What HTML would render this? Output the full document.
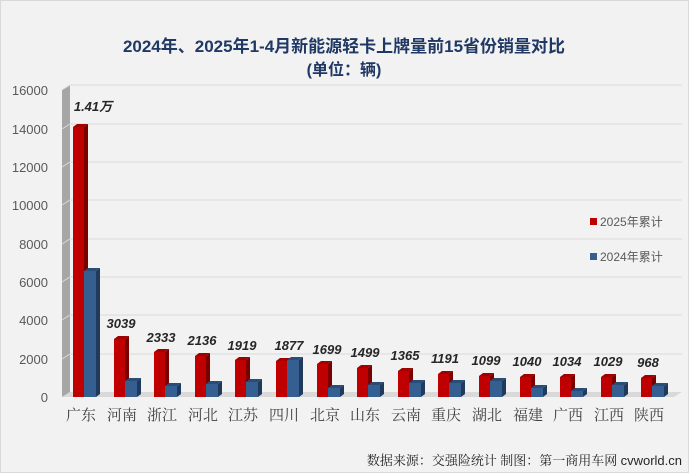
<!DOCTYPE html><html><head><meta charset="utf-8"><style>
body{margin:0;background:#fff}
svg{display:block}
.r{fill:#c00000}.rs{fill:#7a0000}.rt{fill:#a00000}
.b{fill:#355f91}.bs{fill:#1f3a5c}.bt{fill:#2a4d78}
.ax{font:13px "Liberation Sans",sans-serif;fill:#595959;text-anchor:end}
.v{font:italic bold 13px "Liberation Sans","Noto Sans CJK SC",sans-serif;fill:#262626;text-anchor:middle}
.c{font:15px "Noto Serif CJK SC","Liberation Serif",serif;fill:#404040;text-anchor:middle}
</style></head><body>
<svg width="689" height="473" viewBox="0 0 689 473">
<rect x="0.5" y="0.5" width="688" height="472" fill="#f2f2f2" stroke="#d9d9d9"/>
<text x="344" y="52" text-anchor="middle" style="font:bold 17px 'Liberation Sans','Noto Sans CJK SC',sans-serif;fill:#1f3864">2024年、2025年1-4月新能源轻卡上牌量前15省份销量对比</text>
<text x="344" y="75" text-anchor="middle" style="font:bold 16px 'Liberation Sans','Noto Sans CJK SC',sans-serif;fill:#1f3864">(单位：辆)</text>
<polygon points="62,397 70,392 70,85 62,90" fill="#a6a6a6"/>
<polygon points="62,397 70,392 682,392 674,397" fill="#d9d9d9"/>
<g stroke="#d9d9d9" stroke-width="1" fill="none">
<path d="M62 359 L70 354 H682"/><path d="M62 320 L70 315 H682"/><path d="M62 282 L70 277 H682"/><path d="M62 244 L70 239 H682"/><path d="M62 205 L70 200 H682"/><path d="M62 167 L70 162 H682"/><path d="M62 129 L70 124 H682"/><path d="M62 90 L70 85 H682"/>
</g>
<g class="ax"><text x="48" y="402">0</text><text x="48" y="364">2000</text><text x="48" y="325">4000</text><text x="48" y="287">6000</text><text x="48" y="249">8000</text><text x="48" y="210">10000</text><text x="48" y="172">12000</text><text x="48" y="134">14000</text><text x="48" y="95">16000</text></g>

<g transform="translate(73,0)"><path class="r" d="M0 127H11V397H0Z"/><path class="rs" d="M11 127l4 -3V394l-4 3Z"/><path class="rt" d="M0 127l4 -3h11l-4 3Z"/><path class="b" d="M11 271H23V397H11Z"/><path class="bs" d="M23 271l4 -3V394l-4 3Z"/><path class="bt" d="M11 271l4 -3h12l-4 3Z"/></g>
<g transform="translate(114,0)"><path class="r" d="M0 339H11V397H0Z"/><path class="rs" d="M11 339l4 -3V394l-4 3Z"/><path class="rt" d="M0 339l4 -3h11l-4 3Z"/><path class="b" d="M11 381H23V397H11Z"/><path class="bs" d="M23 381l4 -3V394l-4 3Z"/><path class="bt" d="M11 381l4 -3h12l-4 3Z"/></g>
<g transform="translate(154,0)"><path class="r" d="M0 352H11V397H0Z"/><path class="rs" d="M11 352l4 -3V394l-4 3Z"/><path class="rt" d="M0 352l4 -3h11l-4 3Z"/><path class="b" d="M11 386H23V397H11Z"/><path class="bs" d="M23 386l4 -3V394l-4 3Z"/><path class="bt" d="M11 386l4 -3h12l-4 3Z"/></g>
<g transform="translate(195,0)"><path class="r" d="M0 356H11V397H0Z"/><path class="rs" d="M11 356l4 -3V394l-4 3Z"/><path class="rt" d="M0 356l4 -3h11l-4 3Z"/><path class="b" d="M11 384H23V397H11Z"/><path class="bs" d="M23 384l4 -3V394l-4 3Z"/><path class="bt" d="M11 384l4 -3h12l-4 3Z"/></g>
<g transform="translate(235,0)"><path class="r" d="M0 360H11V397H0Z"/><path class="rs" d="M11 360l4 -3V394l-4 3Z"/><path class="rt" d="M0 360l4 -3h11l-4 3Z"/><path class="b" d="M11 382H23V397H11Z"/><path class="bs" d="M23 382l4 -3V394l-4 3Z"/><path class="bt" d="M11 382l4 -3h12l-4 3Z"/></g>
<g transform="translate(276,0)"><path class="r" d="M0 361H11V397H0Z"/><path class="rs" d="M11 361l4 -3V394l-4 3Z"/><path class="rt" d="M0 361l4 -3h11l-4 3Z"/><path class="b" d="M11 360H23V397H11Z"/><path class="bs" d="M23 360l4 -3V394l-4 3Z"/><path class="bt" d="M11 360l4 -3h12l-4 3Z"/></g>
<g transform="translate(317,0)"><path class="r" d="M0 364H11V397H0Z"/><path class="rs" d="M11 364l4 -3V394l-4 3Z"/><path class="rt" d="M0 364l4 -3h11l-4 3Z"/><path class="b" d="M11 388H23V397H11Z"/><path class="bs" d="M23 388l4 -3V394l-4 3Z"/><path class="bt" d="M11 388l4 -3h12l-4 3Z"/></g>
<g transform="translate(357,0)"><path class="r" d="M0 368H11V397H0Z"/><path class="rs" d="M11 368l4 -3V394l-4 3Z"/><path class="rt" d="M0 368l4 -3h11l-4 3Z"/><path class="b" d="M11 385H23V397H11Z"/><path class="bs" d="M23 385l4 -3V394l-4 3Z"/><path class="bt" d="M11 385l4 -3h12l-4 3Z"/></g>
<g transform="translate(398,0)"><path class="r" d="M0 371H11V397H0Z"/><path class="rs" d="M11 371l4 -3V394l-4 3Z"/><path class="rt" d="M0 371l4 -3h11l-4 3Z"/><path class="b" d="M11 383H23V397H11Z"/><path class="bs" d="M23 383l4 -3V394l-4 3Z"/><path class="bt" d="M11 383l4 -3h12l-4 3Z"/></g>
<g transform="translate(438,0)"><path class="r" d="M0 374H11V397H0Z"/><path class="rs" d="M11 374l4 -3V394l-4 3Z"/><path class="rt" d="M0 374l4 -3h11l-4 3Z"/><path class="b" d="M11 383H23V397H11Z"/><path class="bs" d="M23 383l4 -3V394l-4 3Z"/><path class="bt" d="M11 383l4 -3h12l-4 3Z"/></g>
<g transform="translate(479,0)"><path class="r" d="M0 376H11V397H0Z"/><path class="rs" d="M11 376l4 -3V394l-4 3Z"/><path class="rt" d="M0 376l4 -3h11l-4 3Z"/><path class="b" d="M11 381H23V397H11Z"/><path class="bs" d="M23 381l4 -3V394l-4 3Z"/><path class="bt" d="M11 381l4 -3h12l-4 3Z"/></g>
<g transform="translate(520,0)"><path class="r" d="M0 377H11V397H0Z"/><path class="rs" d="M11 377l4 -3V394l-4 3Z"/><path class="rt" d="M0 377l4 -3h11l-4 3Z"/><path class="b" d="M11 388H23V397H11Z"/><path class="bs" d="M23 388l4 -3V394l-4 3Z"/><path class="bt" d="M11 388l4 -3h12l-4 3Z"/></g>
<g transform="translate(560,0)"><path class="r" d="M0 377H11V397H0Z"/><path class="rs" d="M11 377l4 -3V394l-4 3Z"/><path class="rt" d="M0 377l4 -3h11l-4 3Z"/><path class="b" d="M11 391H23V397H11Z"/><path class="bs" d="M23 391l4 -3V394l-4 3Z"/><path class="bt" d="M11 391l4 -3h12l-4 3Z"/></g>
<g transform="translate(601,0)"><path class="r" d="M0 377H11V397H0Z"/><path class="rs" d="M11 377l4 -3V394l-4 3Z"/><path class="rt" d="M0 377l4 -3h11l-4 3Z"/><path class="b" d="M11 385H23V397H11Z"/><path class="bs" d="M23 385l4 -3V394l-4 3Z"/><path class="bt" d="M11 385l4 -3h12l-4 3Z"/></g>
<g transform="translate(641,0)"><path class="r" d="M0 378H11V397H0Z"/><path class="rs" d="M11 378l4 -3V394l-4 3Z"/><path class="rt" d="M0 378l4 -3h11l-4 3Z"/><path class="b" d="M11 386H23V397H11Z"/><path class="bs" d="M23 386l4 -3V394l-4 3Z"/><path class="bt" d="M11 386l4 -3h12l-4 3Z"/></g>

<g class="v">
<text x="93" y="111">1.41万</text><text x="121" y="328">3039</text><text x="161" y="342">2333</text><text x="202" y="345">2136</text><text x="242" y="350">1919</text><text x="289" y="350">1877</text><text x="327" y="354">1699</text><text x="365" y="357">1499</text><text x="405" y="360">1365</text><text x="445" y="363">1191</text><text x="486" y="365">1099</text><text x="527" y="366">1040</text><text x="567" y="366">1034</text><text x="608" y="366">1029</text><text x="648" y="367">968</text>
</g>
<g class="c">
<text x="81" y="420">广东</text><text x="122" y="420">河南</text><text x="162" y="420">浙江</text><text x="203" y="420">河北</text><text x="243" y="420">江苏</text><text x="284" y="420">四川</text><text x="325" y="420">北京</text><text x="365" y="420">山东</text><text x="406" y="420">云南</text><text x="446" y="420">重庆</text><text x="487" y="420">湖北</text><text x="528" y="420">福建</text><text x="568" y="420">广西</text><text x="609" y="420">江西</text><text x="649" y="420">陕西</text>
</g>
<rect x="590" y="218" width="7" height="7" fill="#c00000"/>
<text x="600" y="226" style="font:12px 'Liberation Sans','Noto Sans CJK SC',sans-serif;fill:#595959">2025年累计</text>
<rect x="590" y="253" width="7" height="7" fill="#355f91"/>
<text x="600" y="261" style="font:12px 'Liberation Sans','Noto Sans CJK SC',sans-serif;fill:#595959">2024年累计</text>
<text x="682" y="465" text-anchor="end" style="font:13px 'Noto Serif CJK SC','Liberation Sans',serif;fill:#262626">数据来源：交强险统计 制图：第一商用车网 <tspan style="font-family:'Liberation Sans',sans-serif">cvworld.cn</tspan></text>
</svg>
</body></html>
